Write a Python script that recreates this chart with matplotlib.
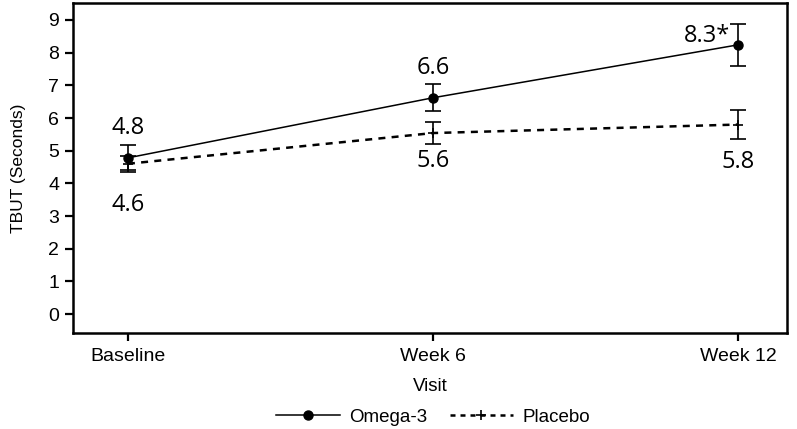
import matplotlib.pyplot as plt
from matplotlib.lines import Line2D

visits = ["Baseline", "Week 6", "Week 12"]
omega = [4.78, 6.62, 8.24]
omega_err = [0.38, 0.42, 0.65]
placebo = [4.6, 5.54, 5.8]
placebo_err = [0.25, 0.33, 0.43]
omega_labels = ["4.8", "6.6", "8.3*"]
placebo_labels = ["4.6", "5.6", "5.8"]

plt.rcParams['font.family'] = ['Liberation Sans', 'DejaVu Sans']

fig = plt.figure(figsize=(7.97, 4.29), dpi=100)
ax = fig.add_axes([73/797, 1 - 333/429, (787-73)/797, (333-3)/429])

x = list(range(len(visits)))

ax.errorbar(x, placebo, yerr=placebo_err, color='black', lw=1.8, ls=(0, (2.8, 2.5)),
            marker='+', ms=7, mew=1.2, capsize=6, elinewidth=1.2, capthick=1.2)
ax.errorbar(x, omega, yerr=omega_err, color='black', lw=1.1, ls='-',
            marker='o', ms=6.5, capsize=6, elinewidth=1.2, capthick=1.2)

lab_font = dict(family=['Open Sans', 'DejaVu Sans'], fontsize=17)
# offsets of the value labels, in data units
ax.text(x[0], omega[0] + 0.9, omega_labels[0], ha='center', va='center', **lab_font)
ax.text(x[1], omega[1] + 0.9, omega_labels[1], ha='center', va='center', **lab_font)
ax.text(x[2] - 0.026, omega[2] + 0.27, omega_labels[2], ha='right', va='center', **lab_font)
ax.text(x[0], placebo[0] - 1.25, placebo_labels[0], ha='center', va='center', **lab_font)
ax.text(x[1], placebo[1] - 0.85, placebo_labels[1], ha='center', va='center', **lab_font)
ax.text(x[2], placebo[2] - 1.15, placebo_labels[2], ha='center', va='center', **lab_font)

ax.set_xlim(-0.18, 2.16)
ax.set_ylim(-0.58, 9.52)
ax.set_xticks(x)
ax.set_xticklabels(visits)
ax.set_yticks(range(0, 10))

for s in ax.spines.values():
    s.set_linewidth(1.8)
ax.tick_params(direction='out', length=6, width=1.6, labelsize=14, pad=4)
ax.tick_params(axis='x', pad=5)

ax.set_xlabel("Visit", fontsize=13.5, labelpad=9)
ax.set_ylabel("TBUT (Seconds)", fontsize=12.5, labelpad=16)

handles = [
    Line2D([], [], color='black', lw=1.1, marker='o', ms=6.5),
    Line2D([], [], color='black', lw=1.8, ls=(0, (2, 2)), marker='+', ms=7, mew=1.2),
]
fig.legend(handles, ["Omega-3", "Placebo"], loc='center', bbox_to_anchor=(433/797, 1 - 417/429),
           ncol=2, frameon=False, fontsize=13.5, handlelength=3.4, columnspacing=1.2,
           handletextpad=0.5)

fig.savefig("out.png", dpi=100)
